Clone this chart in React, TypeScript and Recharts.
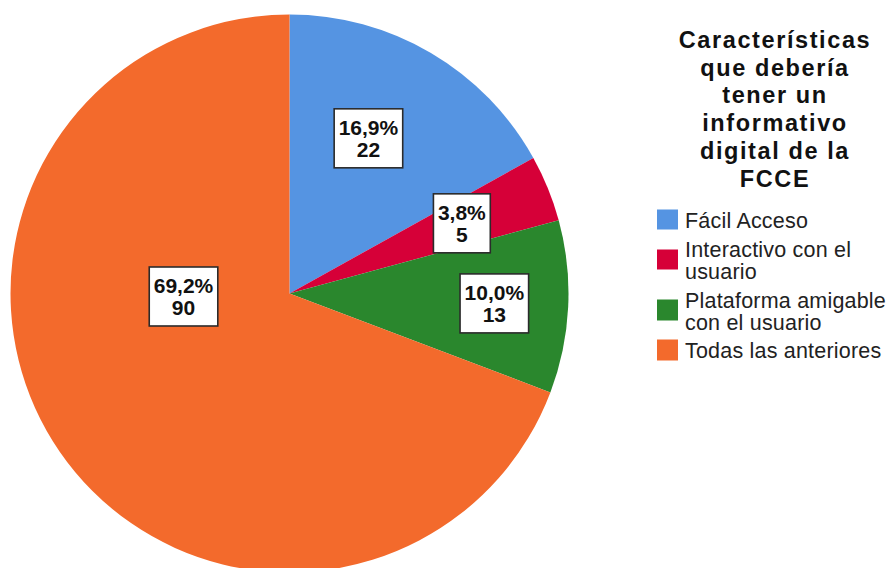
import { PieChart, Pie, Cell, Legend } from "recharts";

const categories = [
  "Fácil Acceso",
  "Interactivo con el usuario",
  "Plataforma amigable con el usuario",
  "Todas las anteriores",
];
const counts = [22, 5, 13, 90];
const colors = ["#5594E2", "#D60038", "#2A872D", "#F36A2C"];
const titleLines = [
  "Características",
  "que debería",
  "tener un",
  "informativo",
  "digital de la",
  "FCCE",
];

// where each label box sits inside its slice (fraction of radius, angle shift)
const labelRadius = [0.624, 0.667, 0.735, 0.38];
const labelShift = [3.5, 0, 0, -33];

const data = categories.map((name, i) => ({ name, value: counts[i] }));

const RAD = Math.PI / 180;
const LABEL_FONT = "bold 21px 'Liberation Sans', Arial, sans-serif";
let ctx: CanvasRenderingContext2D | null = null;
function textWidth(s: string) {
  if (!ctx) ctx = document.createElement("canvas").getContext("2d");
  if (!ctx) return s.length * 11;
  ctx.font = LABEL_FONT;
  return ctx.measureText(s).width;
}

function renderLabel(props: any) {
  const { cx, cy, midAngle, outerRadius, index, value, percent } = props;
  const a = (midAngle + labelShift[index]) * RAD;
  const r = outerRadius * labelRadius[index];
  const x = cx + r * Math.cos(a);
  const y = cy - r * Math.sin(a);
  const pct = (percent * 100).toFixed(1).replace(".", ",") + "%";
  const w = Math.max(textWidth(pct), textWidth(String(value))) + 9;
  const h = 59;
  return (
    <g key={"lbl" + index}>
      <rect
        x={x - w / 2}
        y={y - h / 2}
        width={w}
        height={h}
        fill="#fff"
        stroke="#2b2b2b"
        strokeWidth={1.6}
      />
      <text
        x={x}
        y={y - 3}
        textAnchor="middle"
        fontFamily="'Liberation Sans', Arial, sans-serif"
        fontWeight="bold"
        fontSize={21}
        fill="#111"
      >
        {pct}
      </text>
      <text
        x={x}
        y={y + 18.6}
        textAnchor="middle"
        fontFamily="'Liberation Sans', Arial, sans-serif"
        fontWeight="bold"
        fontSize={21}
        fill="#111"
      >
        {value}
      </text>
    </g>
  );
}

function LegendBox() {
  return (
    <div style={{ fontFamily: "'Liberation Sans', Arial, sans-serif", color: "#111" }}>
      <div
        style={{
          textAlign: "center",
          fontWeight: "bold",
          fontSize: 23.5,
          lineHeight: "27.7px",
          letterSpacing: 1.6,
        }}
      >
        {titleLines.map((t) => (
          <div key={t}>{t}</div>
        ))}
      </div>
      <div style={{ marginTop: 17, paddingLeft: 7 }}>
        {categories.map((c, i) => (
          <div
            key={c}
            style={{ display: "flex", alignItems: "center", marginBottom: 6.7 }}
          >
            <div
              style={{
                width: 21,
                height: 20.5,
                background: colors[i],
                flexShrink: 0,
                transform: "translateY(-1.5px)",
              }}
            />
            <div
              style={{
                marginLeft: 7,
                width: 205,
                fontSize: 21.5,
                lineHeight: "22px",
                letterSpacing: 0.2,
                color: "#222",
              }}
            >
              {c}
            </div>
          </div>
        ))}
      </div>
    </div>
  );
}

export default function App() {
  return (
    <div style={{ position: "absolute", left: 0, top: 0, width: 888, height: 568, background: "#fff", overflow: "hidden" }}>
      <PieChart width={888} height={568} margin={{ top: 0, right: 0, bottom: 0, left: 0 }}>
        <Pie
          data={data}
          dataKey="value"
          nameKey="name"
          cx={289.5}
          cy={293.5}
          outerRadius={279}
          startAngle={90}
          endAngle={-270}
          stroke="none"
          label={renderLabel}
          labelLine={false}
          isAnimationActive={false}
        >
          {data.map((d, i) => (
            <Cell key={d.name} fill={colors[i]} />
          ))}
        </Pie>
        <Legend
          layout="vertical"
          align="right"
          verticalAlign="top"
          width={250}
          content={() => <LegendBox />}
          wrapperStyle={{ left: 650, top: 27, right: "auto", bottom: "auto", width: 250 }}
        />
      </PieChart>
    </div>
  );
}
